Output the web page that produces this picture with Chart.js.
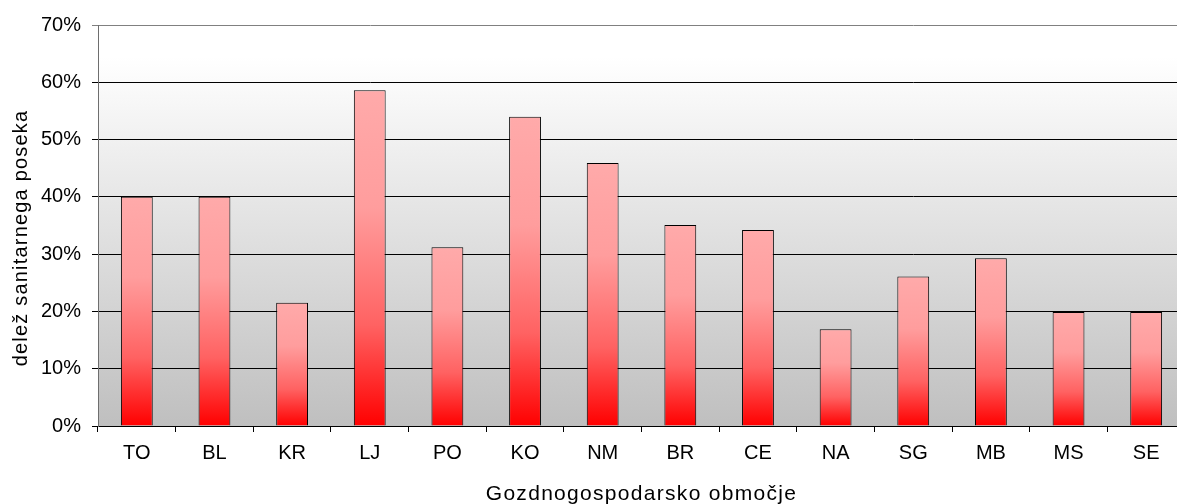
<!DOCTYPE html>
<html>
<head>
<meta charset="utf-8">
<script src="https://cdn.jsdelivr.net/npm/chart.js@4/dist/chart.umd.min.js"></script>
<style>
  html, body { margin: 0; padding: 0; background: #ffffff; overflow: hidden; }
  #wrap { width: 1190px; height: 504px; position: relative; }
</style>
</head>
<body>
<div id="wrap"><canvas id="sanChart"></canvas></div>
<script>
// Data
const areas = ["TO", "BL", "KR", "LJ", "PO", "KO", "NM", "BR", "CE", "NA", "SG", "MB", "MS", "SE"];
const sanitaryShare = [40.0, 40.0, 21.5, 58.6, 31.2, 54.0, 45.9, 35.1, 34.2, 16.9, 26.1, 29.3, 19.9, 19.9];
const yTicks = [0, 10, 20, 30, 40, 50, 60, 70];

const xTitle = "Gozdnogospodarsko območje";
const yTitle = "delež sanitarnega poseka";

const fontFamily = "'Liberation Sans', Arial, sans-serif";
Chart.defaults.font.family = fontFamily;
Chart.defaults.font.size = 20;
Chart.defaults.color = "#000000";

// Grey plot background, white at top
const plotBackground = {
    id: "plotBackground",
    beforeDraw(chart) {
        const area = chart.chartArea;
        if (!area) return;
        const ctx = chart.ctx;
        const g = ctx.createLinearGradient(0, area.top, 0, area.bottom);
        g.addColorStop(0, "#ffffff");
        g.addColorStop(0.08, "#ffffff");
        g.addColorStop(1, "#bfbfbf");
        ctx.save();
        ctx.fillStyle = g;
        ctx.fillRect(area.left, area.top, area.right - area.left, area.bottom - area.top);
        ctx.restore();
    }
};

// Axis titles, spaced out a little like the original
const axisTitles = {
    id: "axisTitles",
    afterDraw(chart) {
        const ctx = chart.ctx;
        const area = chart.chartArea;
        ctx.save();
        ctx.fillStyle = "#000000";
        ctx.textAlign = "center";
        ctx.textBaseline = "alphabetic";

        ctx.font = "21px " + fontFamily;
        ctx.letterSpacing = "1.3px";
        ctx.fillText(xTitle, (area.left + area.right) / 2, 500);

        ctx.font = "20px " + fontFamily;
        ctx.letterSpacing = "1.2px";
        ctx.translate(27, 238);
        ctx.rotate(-Math.PI / 2);
        ctx.fillText(yTitle, 0, 0);
        ctx.restore();
    }
};

// Each bar gets its own pink-to-red gradient
function barFill(context) {
    const chart = context.chart;
    if (!chart.chartArea || context.type !== "data") return "#ff8080";
    const y = chart.scales.y;
    const top = y.getPixelForValue(context.raw);
    const bottom = y.getPixelForValue(0);
    const g = chart.ctx.createLinearGradient(0, top, 0, bottom);
    g.addColorStop(0, "#ffaaaa");
    g.addColorStop(0.35, "#ff9d9d");
    g.addColorStop(0.7, "#ff6262");
    g.addColorStop(1, "#ff0000");
    return g;
}

new Chart(document.getElementById("sanChart"), {
    type: "bar",
    data: {
        labels: areas,
        datasets: [{
            data: sanitaryShare,
            backgroundColor: barFill,
            borderColor: "#000000",
            borderWidth: 1,
            borderSkipped: "bottom",
            barPercentage: 0.41,
            categoryPercentage: 1
        }]
    },
    options: {
        responsive: true,
        maintainAspectRatio: false,
        animation: false,
        layout: {
            padding: { top: 25, right: 5, left: 0, bottom: 0 }
        },
        plugins: {
            legend: { display: false },
            tooltip: { enabled: false }
        },
        scales: {
            x: {
                offset: true,
                grid: {
                    display: true,
                    offset: true,
                    drawOnChartArea: false,
                    drawTicks: true,
                    tickLength: 6,
                    color: "#000000"
                },
                border: { display: true, color: "#000000", width: 1 },
                ticks: { padding: 9, maxRotation: 0, autoSkip: false, color: "#000000" },
                title: { display: false },
                afterFit(scale) { scale.height = 78; }
            },
            y: {
                min: 0,
                max: 70,
                afterBuildTicks(scale) {
                    scale.ticks = yTicks.map(v => ({ value: v }));
                },
                grid: {
                    drawTicks: true,
                    tickLength: 6,
                    color: ctx => (ctx.tick && ctx.tick.value === 70) ? "#808080" : "#000000",
                    lineWidth: 1
                },
                border: { display: true, color: "#6e6e6e", width: 1 },
                ticks: {
                    padding: 11,
                    color: "#000000",
                    callback: v => v + "%"
                },
                title: { display: false },
                afterFit(scale) { scale.width = 98; }
            }
        }
    },
    plugins: [plotBackground, axisTitles]
});
</script>
</body>
</html>
